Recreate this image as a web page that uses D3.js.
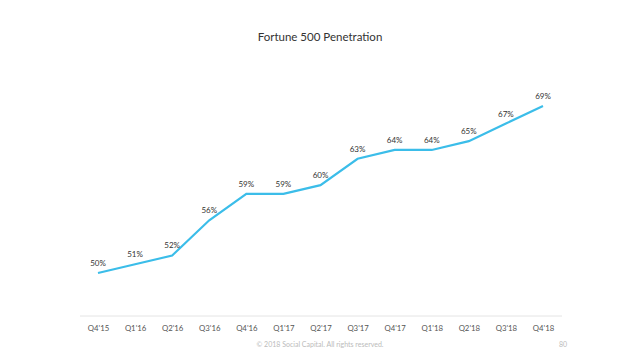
<!DOCTYPE html>
<html><head><meta charset="utf-8">
<script src="https://cdn.jsdelivr.net/npm/d3@7"></script>
<style>body{margin:0;background:#fff}svg{display:block}</style>
</head><body><svg id="c" width="640" height="360"></svg>
<script>
const categories = ["Q4'15","Q1'16","Q2'16","Q3'16","Q4'16","Q1'17","Q2'17","Q3'17","Q4'17","Q1'18","Q2'18","Q3'18","Q4'18"];
const penetration = [50,51,52,56,59,59,60,63,64,64,65,67,69];
const title = "Fortune 500 Penetration";
const footer = "© 2018 Social Capital. All rights reserved.";
const pageNum = "80";

const svg = d3.select("#c");
const font = "Lato, 'Open Sans', sans-serif";
const x = d3.scalePoint().domain(categories).range([98, 543]);
const y = d3.scaleLinear().domain([45, 70]).range([317, 97.2]);

svg.append("text").attr("x", 320).attr("y", 41).attr("text-anchor", "middle")
  .attr("font-family", font).attr("font-size", 11.5).attr("fill", "#333").text(title);

svg.append("line").attr("x1", 80).attr("x2", 562).attr("y1", 316).attr("y2", 316)
  .attr("stroke", "#e4e4e4").attr("stroke-width", 1);

const ax = svg.append("g").attr("transform", "translate(0,316)")
  .call(d3.axisBottom(x).tickSize(0).tickPadding(9));
ax.select(".domain").remove();
ax.selectAll("text").attr("font-family", font).attr("font-size", 7.8).attr("fill", "#555");

const data = categories.map((c, i) => ({c, v: penetration[i]}));
svg.append("path").datum(data)
  .attr("d", d3.line().x(d => x(d.c)).y(d => y(d.v)))
  .attr("fill", "none").attr("stroke", "#3bbde9").attr("stroke-width", 2.2);

svg.selectAll(".lbl").data(data).join("text")
  .attr("x", d => x(d.c)).attr("y", d => y(d.v) - 7)
  .attr("text-anchor", "middle").attr("font-family", font).attr("font-size", 8)
  .attr("fill", "#333").text(d => d.v + "%");

svg.append("text").attr("x", 320).attr("y", 347).attr("text-anchor", "middle")
  .attr("font-family", font).attr("font-size", 7).attr("fill", "#bbb").text(footer);
svg.append("text").attr("x", 563).attr("y", 347).attr("text-anchor", "middle")
  .attr("font-family", font).attr("font-size", 7).attr("fill", "#bbb").text(pageNum);
</script></body></html>
